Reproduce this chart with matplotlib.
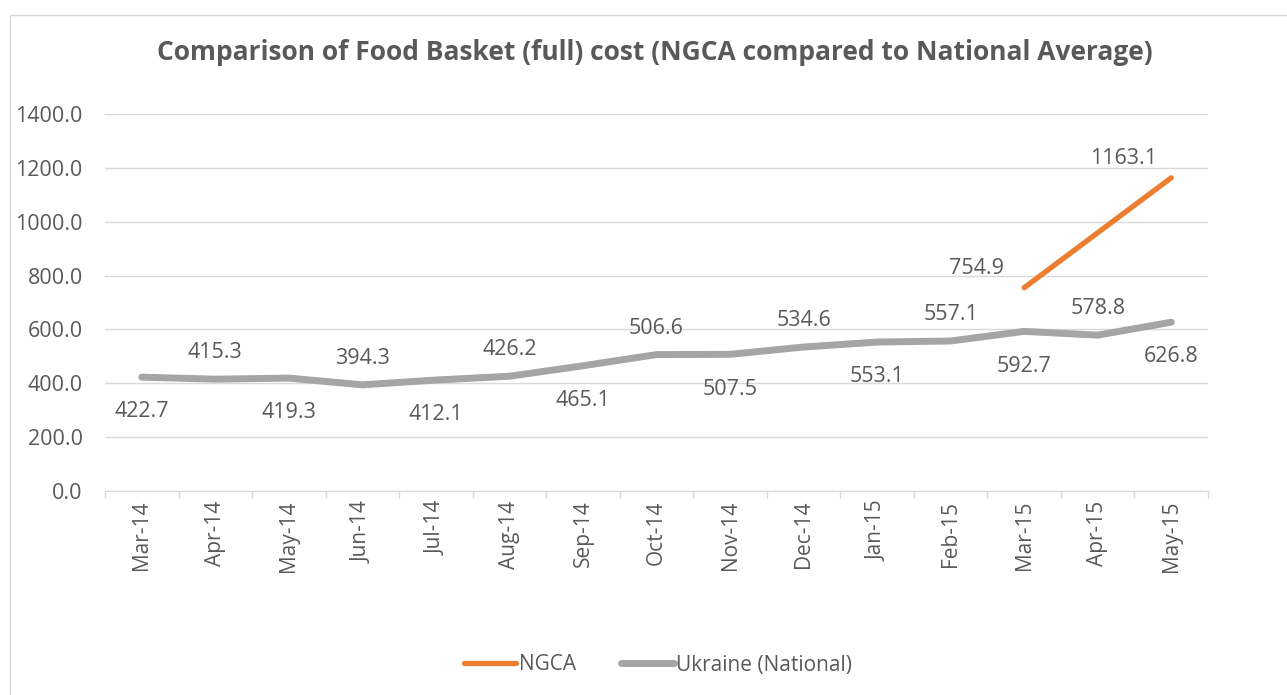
import numpy as np
import pandas as pd
import matplotlib.pyplot as plt
from matplotlib.patches import Rectangle

# chart data
months = ['Mar-14', 'Apr-14', 'May-14', 'Jun-14', 'Jul-14', 'Aug-14', 'Sep-14', 'Oct-14',
          'Nov-14', 'Dec-14', 'Jan-15', 'Feb-15', 'Mar-15', 'Apr-15', 'May-15']
ukraine = [422.7, 415.3, 419.3, 394.3, 412.1, 426.2, 465.1, 506.6,
           507.5, 534.6, 553.1, 557.1, 592.7, 578.8, 626.8]
ngca = [np.nan] * 12 + [754.9, np.nan, 1163.1]
yticks = [0, 200, 400, 600, 800, 1000, 1200, 1400]

plt.rcParams['font.family'] = ['Open Sans', 'DejaVu Sans']
txt = '#595959'
grey = '#A5A5A5'
orange = '#ED7D31'

fig = plt.figure(figsize=(12.87, 6.95), dpi=100)
ax = fig.add_axes([105/1287, 1 - 491/695, 1103/1287, 377/695])

x = np.arange(len(months))
ng = pd.Series(ngca, index=x).dropna()

ax.plot(x, ukraine, color=grey, lw=5, solid_capstyle='round', label='Ukraine (National)', zorder=3)
ax.plot(ng.index, ng.values, color=orange, lw=3.8, solid_capstyle='round', label='NGCA', zorder=3)

# data labels, alternating below / above
for i, v in enumerate(ukraine):
    dy = -25 if i % 2 == 0 else 19
    ax.annotate('%.1f' % v, (i, v), xytext=(0, dy), textcoords='offset points',
                ha='center', va='center', fontsize=15.5, color=txt)
for i, v in ng.items():
    ax.annotate('%.1f' % v, (i, v), xytext=(-34, 14), textcoords='offset points',
                ha='center', va='center', fontsize=15.5, color=txt)

ax.set_xlim(-0.5, len(months) - 0.5)
ax.set_ylim(0, 1400)
ax.set_yticks(yticks)
ax.set_yticklabels(['%.1f' % t for t in yticks])
ax.set_xticks(x)
ax.set_xticklabels(months, rotation=90)
ax.set_xticks(np.arange(-0.5, len(months), 1), minor=True)
ax.tick_params(axis='x', which='major', length=0, pad=7, labelsize=15, labelcolor=txt)
ax.tick_params(axis='x', which='minor', length=5, color='#D9D9D9', width=1)
ax.tick_params(axis='y', length=0, pad=16, labelsize=15.5, labelcolor=txt)

ax.grid(axis='y', color='#D9D9D9', lw=1)
ax.set_axisbelow(True)
for s in ['top', 'right', 'left']:
    ax.spines[s].set_visible(False)
ax.spines['bottom'].set_color('#D9D9D9')

fig.text(655/1287, 1 - 52/695, 'Comparison of Food Basket (full) cost (NGCA compared to National Average)',
         ha='center', va='center', fontsize=19, fontweight='bold', color=txt)

h, l = ax.get_legend_handles_labels()
fig.legend(h[::-1], l[::-1], loc='center', bbox_to_anchor=(658/1287, 1 - 665/695), ncol=2,
           frameon=False, fontsize=15, labelcolor=txt, handlelength=2.5, handletextpad=0.1,
           columnspacing=2.2)

# outer chart frame
fig.patches.append(Rectangle((10/1287, -0.1), 1.2, 1 - 15/695 + 0.1, transform=fig.transFigure,
                             fill=False, edgecolor='#D9D9D9', lw=1))

fig.savefig('out.png', dpi=100)
